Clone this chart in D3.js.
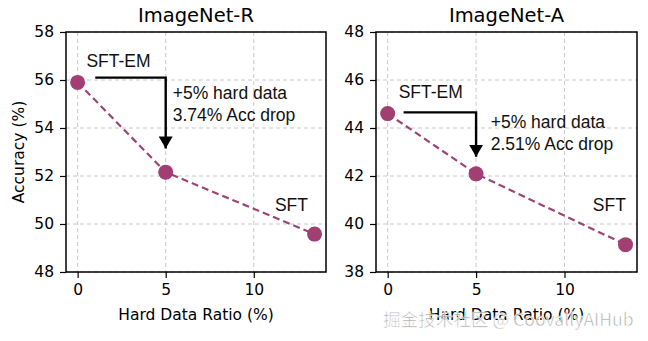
<!DOCTYPE html>
<html>
<head>
<meta charset="utf-8">
<title>Hard data ratio</title>
<script src="https://d3js.org/d3.v7.min.js"></script>
<style>
  body { margin: 0; background: #fff; }
  .tick text { font-family: "DejaVu Sans", sans-serif; font-size: 15.5px; fill: #000; }
  .ann { font-family: "Liberation Sans", Arial, sans-serif; font-size: 17.5px; fill: #111; }
</style>
</head>
<body>
<script>
// data
var ratios = [0, 5, 13.45];
var accR = [55.9, 52.16, 49.58];
var accA = [44.6, 42.09, 39.14];
var xTicks = [0, 5, 10];
var yTicksR = [48, 50, 52, 54, 56, 58];
var yTicksA = [38, 40, 42, 44, 46, 48];
// annotation arrows, in data units
var arrowR = [[1, 56.1], [5, 56.1], [5, 53.15]];
var arrowA = [[0.9, 44.65], [5, 44.65], [5, 42.8]];

var W = 648, H = 341;
var svg = d3.select("body").append("svg")
  .attr("width", W).attr("height", H);

var defs = svg.append("defs");
defs.append("marker")
  .attr("id", "head")
  .attr("viewBox", "0 0 12 14")
  .attr("refX", 12).attr("refY", 7)
  .attr("markerWidth", 12).attr("markerHeight", 14)
  .attr("markerUnits", "userSpaceOnUse")
  .attr("orient", "auto")
  .append("path").attr("d", "M0,0 L12,7 L0,14 Z").attr("fill", "#000");

var purple = "#a13e72";

function panel(opt) {
  var left = opt.left, right = opt.right, top = 32, bottom = 272;
  var x = d3.scaleLinear().domain([-0.66, 14.1]).range([left, right]);
  var y = d3.scaleLinear().domain(opt.yDomain).range([bottom, top]);
  var g = svg.append("g");

  // grid
  g.selectAll(".vg").data(xTicks).enter().append("line")
    .attr("x1", function(d) { return x(d); }).attr("x2", function(d) { return x(d); })
    .attr("y1", top).attr("y2", bottom)
    .attr("stroke", "#c8c8c8").attr("stroke-width", 1).attr("stroke-dasharray", "4,3");
  g.selectAll(".hg").data(opt.yTicks).enter().append("line")
    .attr("x1", left).attr("x2", right)
    .attr("y1", function(d) { return y(d); }).attr("y2", function(d) { return y(d); })
    .attr("stroke", "#c8c8c8").attr("stroke-width", 1).attr("stroke-dasharray", "4,3");

  // axes
  g.append("g").attr("transform", "translate(0," + bottom + ")")
    .call(d3.axisBottom(x).tickValues(xTicks).tickSize(6).tickPadding(6))
    .call(function(a) { a.select(".domain").remove(); });
  g.append("g").attr("transform", "translate(" + left + ",0)")
    .call(d3.axisLeft(y).tickValues(opt.yTicks).tickSize(6).tickPadding(6))
    .call(function(a) { a.select(".domain").remove(); });
  g.selectAll(".tick line").attr("stroke", "#000").attr("stroke-width", 1.2);

  g.append("rect").attr("x", left).attr("y", top)
    .attr("width", right - left).attr("height", bottom - top)
    .attr("fill", "none").attr("stroke", "#000").attr("stroke-width", 1.5);

  // title and x label
  g.append("text").attr("x", (left + right) / 2).attr("y", 22)
    .attr("text-anchor", "middle")
    .style("font-family", "DejaVu Sans, sans-serif").style("font-size", "19.5px")
    .text(opt.title);
  g.append("text").attr("x", (left + right) / 2).attr("y", 320)
    .attr("text-anchor", "middle")
    .style("font-family", "DejaVu Sans, sans-serif").style("font-size", "15.5px")
    .text("Hard Data Ratio (%)");

  // dashed line + markers
  var line = d3.line()
    .x(function(d, i) { return x(ratios[i]); })
    .y(function(d) { return y(d); });
  g.append("path").datum(opt.acc)
    .attr("d", line).attr("fill", "none")
    .attr("stroke", "#9c4574").attr("stroke-width", 2.2)
    .attr("stroke-dasharray", "7,4");
  g.selectAll(".pt").data(opt.acc).enter().append("circle")
    .attr("cx", function(d, i) { return x(ratios[i]); })
    .attr("cy", function(d) { return y(d); })
    .attr("r", 7.5).attr("fill", purple);

  // arrow
  g.append("path")
    .attr("d", d3.line().x(function(d) { return x(d[0]); }).y(function(d) { return y(d[1]); })(opt.arrow))
    .attr("fill", "none").attr("stroke", "#000").attr("stroke-width", 2.4)
    .attr("marker-end", "url(#head)");

  // labels
  opt.labels.forEach(function(l) {
    g.append("text").attr("class", "ann")
      .attr("x", x(l[0])).attr("y", y(l[1])).text(l[2]);
  });
}

panel({
  left: 66, right: 326, yDomain: [48, 58], yTicks: yTicksR,
  acc: accR, arrow: arrowR, title: "ImageNet-R",
  labels: [[0.5, 56.55, "SFT-EM"], [5.4, 55.2, "+5% hard data"],
           [5.4, 54.3, "3.74% Acc drop"], [11.2, 50.55, "SFT"]]
});
panel({
  left: 376, right: 637, yDomain: [38, 48], yTicks: yTicksA,
  acc: accA, arrow: arrowA, title: "ImageNet-A",
  labels: [[0.62, 45.25, "SFT-EM"], [5.83, 44.0, "+5% hard data"],
           [5.83, 43.08, "2.51% Acc drop"], [11.6, 40.55, "SFT"]]
});

// y label
svg.append("text")
  .attr("transform", "translate(24,152) rotate(-90)")
  .attr("text-anchor", "middle")
  .style("font-family", "DejaVu Sans, sans-serif").style("font-size", "15.5px")
  .text("Accuracy (%)");

// watermark (overlaps the x label, as in the source)
svg.append("text")
  .attr("x", 383).attr("y", 326)
  .style("font-family", "Noto Sans CJK SC, sans-serif").style("font-size", "17.6px")
  .attr("fill", "#9a9a9a").attr("fill-opacity", 0.85)
  .attr("stroke", "#fff").attr("stroke-width", 0.6)
  .text("掘金技术社区 @ CoovallyAIHub");
</script>
</body>
</html>
